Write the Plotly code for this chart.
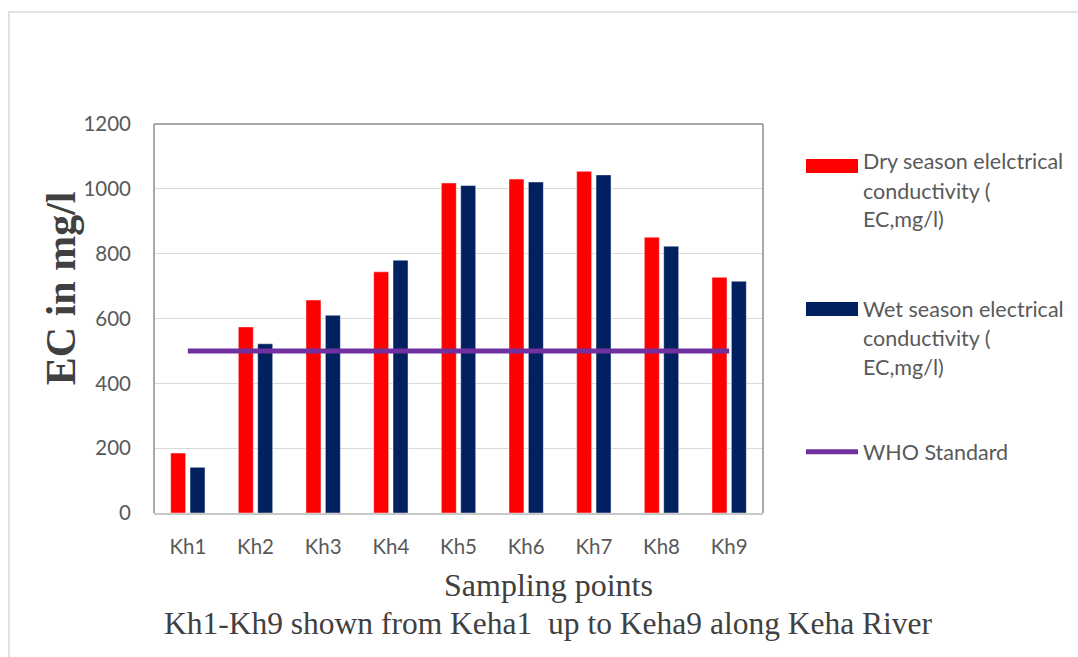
import plotly.graph_objects as go

# Sampling points along the river
sites = ["Kh1", "Kh2", "Kh3", "Kh4", "Kh5", "Kh6", "Kh7", "Kh8", "Kh9"]

# Electrical conductivity (EC, mg/l)
dry_ec = [185, 574, 657, 744, 1018, 1030, 1054, 851, 727]
wet_ec = [141, 522, 610, 780, 1010, 1021, 1043, 823, 715]

# WHO guideline value
who_limit = 500
who_line = [who_limit] * len(sites)

y_ticks = [0, 200, 400, 600, 800, 1000, 1200]

RED = "#FF0000"
NAVY = "#002060"
PURPLE = "#7030A0"
TICK_GRAY = "#595959"
TITLE_GRAY = "#404040"
SANS = "Lato, 'Open Sans', sans-serif"
SERIF = "'Liberation Serif', 'DejaVu Serif', serif"

fig = go.Figure()

fig.add_trace(go.Bar(
    x=sites, y=dry_ec, name="Dry season elelctrical conductivity ( EC,mg/l)",
    marker=dict(color=RED, line=dict(color="rgba(255,255,255,0.45)", width=1)),
))
fig.add_trace(go.Bar(
    x=sites, y=wet_ec, name="Wet season electrical conductivity ( EC,mg/l)",
    marker=dict(color=NAVY, line=dict(color="rgba(255,255,255,0.45)", width=1)),
))
fig.add_trace(go.Scatter(
    x=sites, y=who_line, name="WHO Standard", mode="lines",
    line=dict(color=PURPLE, width=5),
))

shapes = []
# plot-area frame (left, top, right); bottom edge comes from the x axis line
frame = "#8C8C8C"
shapes.append(dict(type="line", xref="paper", yref="paper", x0=0, x1=0, y0=0, y1=1,
                   line=dict(color=frame, width=1.5)))
shapes.append(dict(type="line", xref="paper", yref="paper", x0=0, x1=1, y0=1, y1=1,
                   line=dict(color=frame, width=1.5)))
shapes.append(dict(type="line", xref="paper", yref="paper", x0=1, x1=1, y0=0, y1=1,
                   line=dict(color=frame, width=1.5)))
# outer chart border
shapes.append(dict(type="rect", xref="paper", yref="paper", x0=-0.2381, x1=1.6,
                   y0=-0.6, y1=1.2879, line=dict(color="#D9D9D9", width=1.5),
                   fillcolor="rgba(0,0,0,0)", layer="below"))

# legend swatches
sx0, sx1 = 1.0706, 1.156
shapes.append(dict(type="rect", xref="paper", yref="paper", x0=sx0, x1=sx1,
                   y0=0.874, y1=0.910, line=dict(width=0), fillcolor=RED))
shapes.append(dict(type="rect", xref="paper", yref="paper", x0=sx0, x1=sx1,
                   y0=0.5064, y1=0.5424, line=dict(width=0), fillcolor=NAVY))
shapes.append(dict(type="line", xref="paper", yref="paper", x0=sx0, x1=sx1,
                   y0=0.1576, y1=0.1576, line=dict(color=PURPLE, width=5)))

annotations = []
legend_lines = [
    ("Dry season elelctrical", 0.9041),
    ("conductivity (", 0.8270),
    ("EC,mg/l)", 0.7545),
    ("Wet season electrical", 0.5244),
    ("conductivity (", 0.4499),
    ("EC,mg/l)", 0.3753),
    ("WHO Standard", 0.1576),
]
for txt, yy in legend_lines:
    annotations.append(dict(text=txt, xref="paper", yref="paper", x=1.1610, y=yy,
                            xanchor="left", yanchor="middle", showarrow=False,
                            font=dict(family=SANS, size=21.5, color=TICK_GRAY)))

annotations.append(dict(text="<b>EC in mg/l</b>", xref="paper", yref="paper",
                        x=-0.1527, y=0.578, textangle=-90, showarrow=False,
                        xanchor="center", yanchor="middle",
                        font=dict(family=SERIF, size=42, color=TITLE_GRAY)))
annotations.append(dict(text="Sampling points", xref="paper", yref="paper",
                        x=0.6486, y=-0.185, showarrow=False,
                        xanchor="center", yanchor="middle",
                        font=dict(family=SERIF, size=32, color=TITLE_GRAY)))
annotations.append(dict(text="Kh1-Kh9 shown from Keha1  up to Keha9 along Keha River",
                        xref="paper", yref="paper", x=0.6486, y=-0.2828,
                        showarrow=False, xanchor="center", yanchor="middle",
                        font=dict(family=SERIF, size=31.5, color=TITLE_GRAY)))

fig.update_layout(
    width=1078, height=657,
    margin=dict(l=154, r=315, t=124, b=144),
    paper_bgcolor="white", plot_bgcolor="white",
    showlegend=False,
    barmode="group", bargap=0.427, bargroupgap=0.227,
    shapes=shapes, annotations=annotations,
    xaxis=dict(
        type="category", showgrid=False, showline=True, linecolor="#C8C8C8",
        linewidth=1.5, ticks="", ticklabelstandoff=15,
        tickfont=dict(family=SANS, size=20.5, color=TICK_GRAY),
    ),
    yaxis=dict(
        range=[0, 1200], tickvals=y_ticks, showgrid=True, gridcolor="#D9D9D9",
        gridwidth=1.3, zeroline=False, showline=False, ticks="",
        ticklabelstandoff=22,
        tickfont=dict(family=SANS, size=20.5, color=TICK_GRAY),
    ),
)

fig.write_html("out.html")
